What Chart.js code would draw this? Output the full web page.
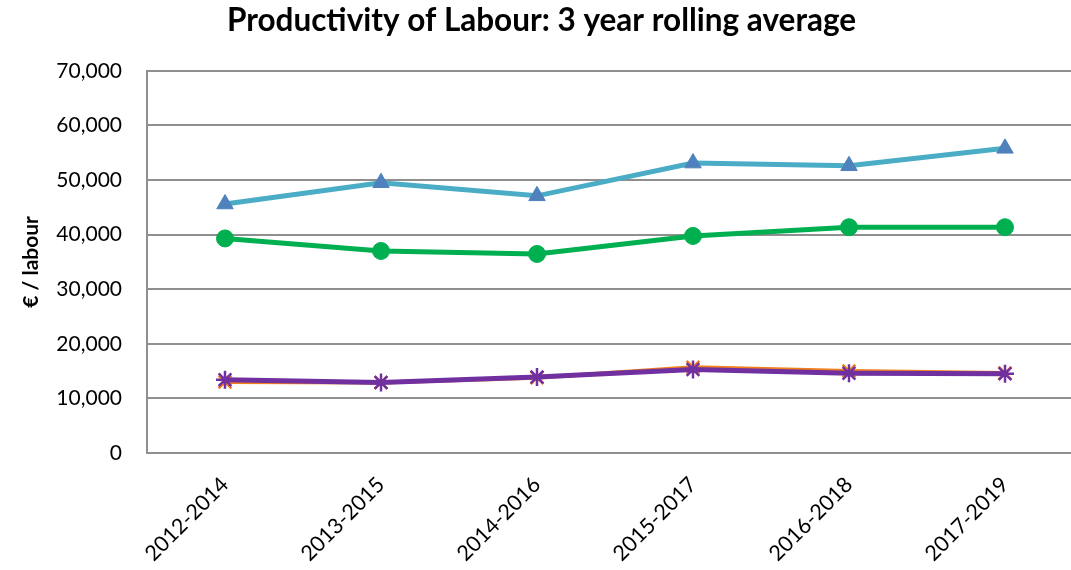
<!DOCTYPE html>
<html>
<head>
<meta charset="utf-8">
<script src="https://cdn.jsdelivr.net/npm/chart.js@4.4.0/dist/chart.umd.min.js"></script>
<style>
  html, body { margin: 0; padding: 0; background: #fff; width: 1071px; height: 570px; overflow: hidden; }
  #wrap { width: 1071px; height: 570px; overflow: hidden; position: relative; }
  #myChart { position: absolute; left: 0; top: 0; }
</style>
</head>
<body>
<div id="wrap"><canvas id="myChart" width="1084" height="570"></canvas></div>
<script>
// values
var periods = ["2012-2014", "2013-2015", "2014-2016", "2015-2017", "2016-2018", "2017-2019"];
var blueSeries = [45600, 49500, 47100, 53100, 52600, 55800];
var greenSeries = [39300, 37000, 36450, 39750, 41350, 41350];
var orangeSeries = [13000, 12900, 13800, 15700, 15000, 14650];
var purpleSeries = [13400, 12900, 13900, 15300, 14600, 14500];
var yTicks = [0, 10000, 20000, 30000, 40000, 50000, 60000, 70000];

var gridGrey = "#8f8f8f";
var fontFam = "Lato, 'Open Sans', sans-serif";

var chart = new Chart("myChart", {
  type: "line",
  data: {
    labels: periods,
    datasets: [
      {
        label: "purple",
        data: purpleSeries,
        borderColor: "#7030A0",
        backgroundColor: "#7030A0",
        borderWidth: 5,
        pointStyle: "star",
        pointRadius: 9,
        pointBorderWidth: 2.5,
        pointBorderColor: "#7030A0",
        tension: 0
      },
      {
        label: "orange",
        data: orangeSeries,
        borderColor: "#F07F1E",
        backgroundColor: "#F07F1E",
        borderWidth: 4,
        pointStyle: "crossRot",
        pointRadius: 9,
        pointBorderWidth: 2.5,
        pointBorderColor: "#F07F1E",
        tension: 0
      },
      {
        label: "green",
        data: greenSeries,
        borderColor: "#00B050",
        backgroundColor: "#00B050",
        borderWidth: 5,
        pointStyle: "circle",
        pointRadius: 8.5,
        pointBorderWidth: 1,
        tension: 0
      },
      {
        label: "blue",
        data: blueSeries,
        borderColor: "#4BACC6",
        backgroundColor: "#4F81BD",
        borderWidth: 5,
        pointStyle: "triangle",
        pointRadius: 9.5,
        pointBorderColor: "#4F81BD",
        pointBackgroundColor: "#4F81BD",
        pointBorderWidth: 1,
        tension: 0
      }
    ]
  },
  options: {
    responsive: false,
    animation: false,
    layout: {
      autoPadding: false,
      padding: { left: 0, right: 1, top: 0, bottom: 0 }
    },
    plugins: {
      legend: { display: false },
      tooltip: { enabled: false },
      title: {
        display: true,
        text: "Productivity of Labour: 3 year rolling average",
        color: "#000",
        font: { family: fontFam, size: 31.5, weight: "bold", lineHeight: 1.2 },
        padding: { top: 2, bottom: 31 }
      }
    },
    scales: {
      x: {
        offset: true,
        grid: { display: false, drawTicks: false },
        border: { display: true, color: gridGrey, width: 2 },
        ticks: {
          color: "#000",
          font: { family: fontFam, size: 21.5 },
          minRotation: 45,
          maxRotation: 45,
          padding: 19
        },
        afterFit: function (scale) {
          scale.height = 117;
          // plot runs past the right edge of the picture, no extra room for labels
          scale.paddingLeft = 0;
          scale.paddingRight = 0;
        }
      },
      y: {
        min: 0,
        max: 70000,
        afterBuildTicks: function (scale) {
          scale.ticks = yTicks.map(function (v) { return { value: v }; });
        },
        grid: { color: gridGrey, lineWidth: 2, drawTicks: false },
        border: { display: true, color: gridGrey, width: 2 },
        ticks: {
          color: "#000",
          font: { family: fontFam, size: 21 },
          padding: 25,
          callback: function (v) { return v.toLocaleString("en-US"); }
        },
        title: {
          display: true,
          text: "€ / labour",
          color: "#000",
          font: { family: fontFam, size: 21, weight: "bold", lineHeight: 1.2 },
          padding: { top: 19, bottom: 0 }
        },
        afterFit: function (scale) { scale.width = 147; }
      }
    }
  }
});
</script>
</body>
</html>
